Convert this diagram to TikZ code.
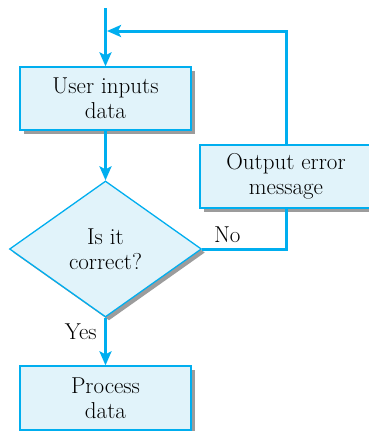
\documentclass[tikz,border=0pt]{standalone}
\usetikzlibrary{arrows.meta, positioning, shapes.geometric, shadows}
\definecolor{cline}{HTML}{00AEEF}
\definecolor{cfill}{HTML}{E1F3FA}
\definecolor{cshade}{HTML}{9C9C9C}
\tikzset{
  every picture/.style={x=1pt, y=1pt, line width=3pt},
  box/.style={draw=cline, fill=cfill, line width=1.3pt, align=center, inner sep=0pt,
    font=\rmfamily\fontsize{23}{25}\selectfont, drop shadow={shadow xshift=3.5pt, shadow yshift=-3.5pt, fill=cshade, opacity=1}},
  decision/.style={box, shape=diamond, aspect=1.4},
  arrow/.style={-{Stealth[length=14pt, width=12pt, inset=3pt]}, draw=cline, line width=3pt},
  flow/.style={draw=cline, line width=3pt},
  lbl/.style={font=\rmfamily\fontsize{23}{25}\selectfont},
}

\begin{document}
\begin{tikzpicture}
  \useasboundingbox (0,0) rectangle (369,-431);
  \clip (0,0) rectangle (369,-431);
  \coordinate (start) at (105.5,-8);
  \coordinate (join) at (105.5,-31);
  \node[box, minimum width=171, minimum height=63] (input) at (105.5,-98.5) {User inputs\\data};
  \node[decision, minimum width=192, minimum height=136] (check) at (105.5,-249) {Is it\\correct?};
  \node[box, minimum width=172, minimum height=63] (error) at (286,-176.5) {Output error\\message};
  \node[box, minimum width=171, minimum height=64] (process) at (105.5,-398) {Process\\data};
  % main flow
  \draw[arrow] (start) -- (input.north);
  \draw[arrow] (input.south) -- (check.north);
  \draw[arrow] (check.south) -- (process.north) node[lbl, pos=0.3, left=4pt] {Yes};
  % loop back on a wrong answer
  \draw[flow] (check.east) -| (error.south) node[lbl, pos=0.15, above=1pt] {No};
  \draw[arrow] (error.north) |- ([xshift=1.5pt]join);
\end{tikzpicture}
\end{document}
